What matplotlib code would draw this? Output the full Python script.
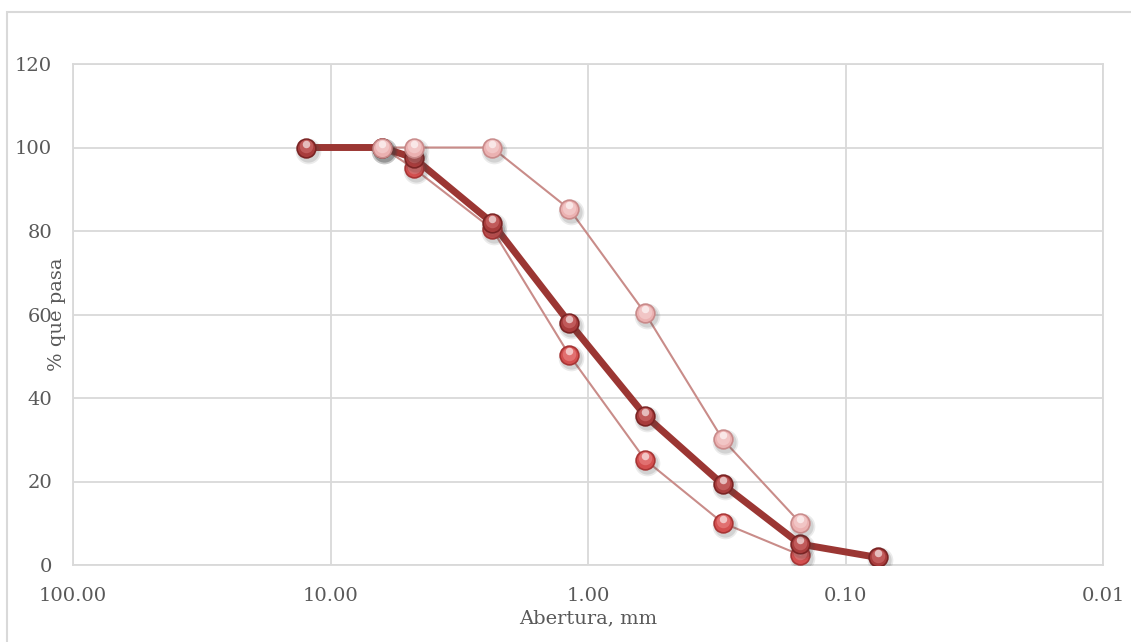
import numpy as np
import matplotlib
matplotlib.use("Agg")
import matplotlib.pyplot as plt
import matplotlib.transforms as mtransforms
from matplotlib.patches import Rectangle

# abertura del tamiz (mm) y porcentaje que pasa
abertura_muestra = [12.5, 6.3, 4.75, 2.36, 1.18, 0.6, 0.3, 0.15, 0.075]
pasa_muestra = [100, 100, 97.5, 82, 58, 35.8, 19.3, 5.0, 1.8]

abertura_lim = [6.3, 4.75, 2.36, 1.18, 0.6, 0.3, 0.15]
pasa_inferior = [100, 95, 80.5, 50.2, 25.2, 10.1, 2.4]
pasa_superior = [100, 100, 100, 85.2, 60.3, 30.1, 10.1]

x_ticks = [100, 10, 1, 0.1, 0.01]
y_ticks = [0, 20, 40, 60, 80, 100, 120]

plt.rcParams['font.family'] = ['DejaVu Serif']

fig = plt.figure(figsize=(11.31, 6.42), dpi=100)
ax = fig.add_axes([73 / 1131, 1 - 565 / 642, 1030 / 1131, 501 / 642])

# marco exterior del grafico
fig.patches.append(Rectangle((7 / 1131, -0.1), 1.2, 0.1 + 1 - 12 / 642,
                             transform=fig.transFigure, fill=False,
                             edgecolor='#d9d9d9', lw=1.5))

ax.set_xscale('log')
ax.set_xlim(100, 0.01)
ax.set_ylim(0, 120)
ax.set_xticks(x_ticks)
ax.set_xticklabels(['%.2f' % v for v in x_ticks])
ax.set_yticks(y_ticks)
ax.minorticks_off()
ax.tick_params(length=0, labelsize=14, colors='#595959')
ax.tick_params(axis='x', pad=16)
ax.tick_params(axis='y', pad=15)
ax.grid(True, color='#d9d9d9', lw=1.3)
ax.set_axisbelow(True)
for s in ax.spines.values():
    s.set_color('#d9d9d9')
    s.set_linewidth(1.3)

ax.set_xlabel('Abertura, mm', fontsize=14, color='#595959', labelpad=3)
ax.set_ylabel('% que pasa', fontsize=14, color='#595959')
ax.yaxis.set_label_coords(-0.0068, 0.5)


def off(dx, dy):
    return mtransforms.offset_copy(ax.transData, fig=fig, x=dx, y=dy, units='dots')


def esferas(x, y, base, borde, claro, z):
    ms = 13.5
    for d, a in [(5, 0.10), (2.5, 0.14)]:
        ax.plot(x, y, 'o', ms=ms + d, color='#404040', alpha=a, mec='none',
                transform=off(2, -3), zorder=z)
    ax.plot(x, y, 'o', ms=ms, color=base, mec=borde, mew=1.2, zorder=z + 0.1)
    ax.plot(x, y, 'o', ms=ms * 0.72, color=claro, mec='none', alpha=0.55,
            transform=off(0, 1.5), zorder=z + 0.2)
    ax.plot(x, y, 'o', ms=ms * 0.4, color='white', mec='none', alpha=0.6,
            transform=off(0, 4), zorder=z + 0.3)


linea_fina = '#c98c89'
ax.plot(abertura_lim, pasa_superior, '-', color=linea_fina, lw=1.5, zorder=3)
ax.plot(abertura_lim, pasa_inferior, '-', color=linea_fina, lw=1.5, zorder=3)
ax.plot(abertura_muestra, pasa_muestra, '-', color='#9b3633', lw=5,
        solid_joinstyle='round', zorder=4)

esferas(abertura_lim, pasa_inferior, '#d34f4f', '#a83535', '#ee8c8c', 5)
esferas(abertura_muestra, pasa_muestra, '#a83c3c', '#7a2424', '#d57474', 6)
esferas(abertura_lim, pasa_superior, '#ebb1b1', '#c98a8a', '#f7d6d6', 7)

fig.savefig('out.png', dpi=100)
